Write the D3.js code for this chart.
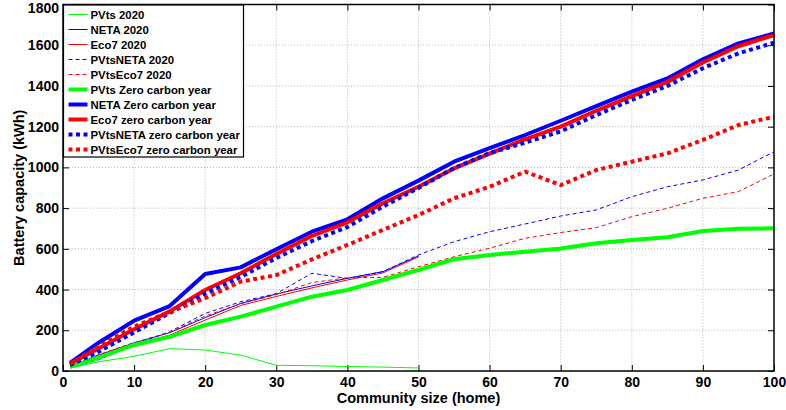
<!DOCTYPE html>
<html>
<head>
<meta charset="utf-8">
<script src="https://cdn.jsdelivr.net/npm/d3@7"></script>
<style>
  html, body { margin: 0; padding: 0; background: #fff; }
  svg { display: block; font-family: "Liberation Sans", Arial, sans-serif; }
</style>
</head>
<body>
<svg id="chart" width="786" height="410"></svg>
<script>
// Community sizes (homes)
const sizesFull = [1, 5, 10, 15, 20, 25, 30, 35, 40, 45, 50, 55, 60, 65, 70, 75, 80, 85, 90, 95, 100];
const sizesHalf = [1, 5, 10, 15, 20, 25, 30, 35, 40, 45, 50];

// Battery capacity (kWh) per tariff / scenario
const pvts2020      = [15, 45, 72, 110, 103, 78, 28, 26, 22, 19, 15];
const neta2020      = [22, 78, 138, 188, 262, 332, 378, 418, 455, 488, 565];
const eco72020      = [18, 70, 130, 176, 250, 322, 366, 408, 447, 482, 560];
const pvtsNeta2020  = [15, 55, 128, 193, 283, 340, 380, 480, 455, 488, 570, 635, 684, 722, 761, 791, 856, 905, 938, 987, 1077];
const pvtsEco72020  = [20, 80, 140, 190, 270, 330, 375, 434, 458, 460, 512, 561, 603, 652, 680, 704, 758, 799, 848, 881, 968];
const pvtsZero      = [20, 66, 128, 168, 226, 267, 316, 365, 398, 447, 496, 549, 570, 586, 602, 627, 643, 657, 688, 699, 701];
const netaZero      = [40, 139, 247, 319, 476, 509, 598, 684, 745, 848, 935, 1028, 1095, 1159, 1229, 1301, 1372, 1437, 1531, 1609, 1658];
const eco7Zero      = [36, 110, 205, 293, 398, 480, 575, 663, 730, 824, 905, 995, 1068, 1138, 1200, 1278, 1350, 1420, 1515, 1595, 1650];
const pvtsNetaZero  = [30, 95, 190, 285, 380, 462, 555, 638, 707, 807, 899, 997, 1070, 1122, 1177, 1257, 1331, 1400, 1487, 1560, 1612];
const pvtsEco7Zero  = [35, 119, 218, 290, 358, 439, 471, 548, 619, 693, 766, 848, 905, 979, 913, 987, 1028, 1069, 1135, 1208, 1249];

const xTicks = [0, 10, 20, 30, 40, 50, 60, 70, 80, 90, 100];
const yTicks = [0, 200, 400, 600, 800, 1000, 1200, 1400, 1600, 1800];

const GREEN = "#00ff00", BLUE = "#0000ff", RED = "#ff0000";

const series = [
  { name: "PVts 2020",                 x: sizesHalf, y: pvts2020,     color: GREEN, w: 1,   dash: null },
  { name: "NETA 2020",                 x: sizesHalf, y: neta2020,     color: BLUE,  w: 1,   dash: null },
  { name: "Eco7 2020",                 x: sizesHalf, y: eco72020,     color: RED,   w: 1,   dash: null },
  { name: "PVtsNETA 2020",             x: sizesFull, y: pvtsNeta2020, color: BLUE,  w: 1,   dash: "4,3" },
  { name: "PVtsEco7 2020",             x: sizesFull, y: pvtsEco72020, color: RED,   w: 1,   dash: "4,3" },
  { name: "PVts Zero carbon year",     x: sizesFull, y: pvtsZero,     color: GREEN, w: 4,   dash: null },
  { name: "NETA Zero carbon year",     x: sizesFull, y: netaZero,     color: BLUE,  w: 4,   dash: null },
  { name: "Eco7 zero carbon year",     x: sizesFull, y: eco7Zero,     color: RED,   w: 4,   dash: null },
  { name: "PVtsNETA zero carbon year", x: sizesFull, y: pvtsNetaZero, color: BLUE,  w: 4,   dash: "4,3.5" },
  { name: "PVtsEco7 zero carbon year", x: sizesFull, y: pvtsEco7Zero, color: RED,   w: 4,   dash: "4,3.5" }
];

const svg = d3.select("#chart");
const m = { left: 63, right: 774, top: 4.5, bottom: 371 };

const x = d3.scaleLinear().domain([0, 100]).range([m.left, m.right]);
const y = d3.scaleLinear().domain([0, 1800]).range([m.bottom, m.top]);

// dotted grid
const grid = svg.append("g");
grid.selectAll("line.gx").data(xTicks.slice(1, -1)).join("line")
  .attr("x1", d => x(d)).attr("x2", d => x(d))
  .attr("y1", m.top).attr("y2", m.bottom)
  .attr("stroke", "#b8b8b8").attr("stroke-width", 1).attr("stroke-dasharray", "1,2");
grid.selectAll("line.gy").data(yTicks.slice(1, -1)).join("line")
  .attr("y1", d => y(d)).attr("y2", d => y(d))
  .attr("x1", m.left).attr("x2", m.right)
  .attr("stroke", "#b8b8b8").attr("stroke-width", 1).attr("stroke-dasharray", "1,2");

// inward ticks on all four sides
const tickLen = 6;
const fmt = d3.format("d");
const axB = d3.axisBottom(x).tickValues(xTicks).tickSizeInner(-tickLen).tickSizeOuter(0).tickPadding(6).tickFormat(fmt);
const axT = d3.axisTop(x).tickValues(xTicks).tickSizeInner(-tickLen).tickSizeOuter(0).tickFormat("");
const axL = d3.axisLeft(y).tickValues(yTicks).tickSizeInner(-tickLen).tickSizeOuter(0).tickPadding(4).tickFormat(fmt);
const axR = d3.axisRight(y).tickValues(yTicks).tickSizeInner(-tickLen).tickSizeOuter(0).tickFormat("");

function styleAxis(g) {
  g.select(".domain").remove();
  g.selectAll(".tick line").attr("stroke", "#000").attr("stroke-width", 1);
  g.selectAll(".tick text").attr("fill", "#000").attr("font-size", 14).attr("font-weight", "bold");
}
svg.append("g").attr("transform", `translate(0,${m.bottom})`).call(axB).call(styleAxis);
svg.append("g").attr("transform", `translate(0,${m.top})`).call(axT).call(styleAxis);
const gLeft = svg.append("g").attr("transform", `translate(${m.left},0)`).call(axL).call(styleAxis);
svg.append("g").attr("transform", `translate(${m.right},0)`).call(axR).call(styleAxis);

// keep the top tick label inside the canvas
gLeft.selectAll(".tick text").filter(d => d === 1800).attr("dy", "0.55em");

// lines
const plot = svg.append("g");
const line = d3.line().x(d => x(d[0])).y(d => y(d[1]));
series.forEach(s => {
  plot.append("path")
    .datum(s.x.map((v, i) => [v, s.y[i]]))
    .attr("d", line)
    .attr("fill", "none")
    .attr("stroke", s.color)
    .attr("stroke-width", s.w)
    .attr("stroke-linejoin", "round")
    .attr("stroke-dasharray", s.dash);
});

// frame
svg.append("rect")
  .attr("x", m.left).attr("y", m.top)
  .attr("width", m.right - m.left).attr("height", m.bottom - m.top)
  .attr("fill", "none").attr("stroke", "#000").attr("stroke-width", 1.5);

// axis titles
svg.append("text")
  .attr("x", (m.left + m.right) / 2).attr("y", 403)
  .attr("text-anchor", "middle").attr("font-size", 14.5).attr("font-weight", "bold")
  .text("Community size (home)");
svg.append("text")
  .attr("transform", `translate(24,${(m.top + m.bottom) / 2}) rotate(-90)`)
  .attr("text-anchor", "middle").attr("font-size", 14.5).attr("font-weight", "bold")
  .text("Battery capacity (kWh)");

// legend
const leg = svg.append("g");
const legX = 63.5, legY = 5, rowH = 15;
leg.append("rect")
  .attr("x", legX).attr("y", legY)
  .attr("width", 180).attr("height", 152)
  .attr("fill", "#fff").attr("stroke", "#000").attr("stroke-width", 1.2);
series.forEach((s, i) => {
  const cy = legY + 9.5 + i * rowH;
  leg.append("line")
    .attr("x1", legX + 5).attr("x2", legX + 24)
    .attr("y1", cy).attr("y2", cy)
    .attr("stroke", s.color).attr("stroke-width", s.w)
    .attr("stroke-dasharray", s.dash);
  leg.append("text")
    .attr("x", legX + 27).attr("y", cy + 4)
    .attr("font-size", 11.4).attr("font-weight", "bold")
    .text(s.name);
});
</script>
</body>
</html>
